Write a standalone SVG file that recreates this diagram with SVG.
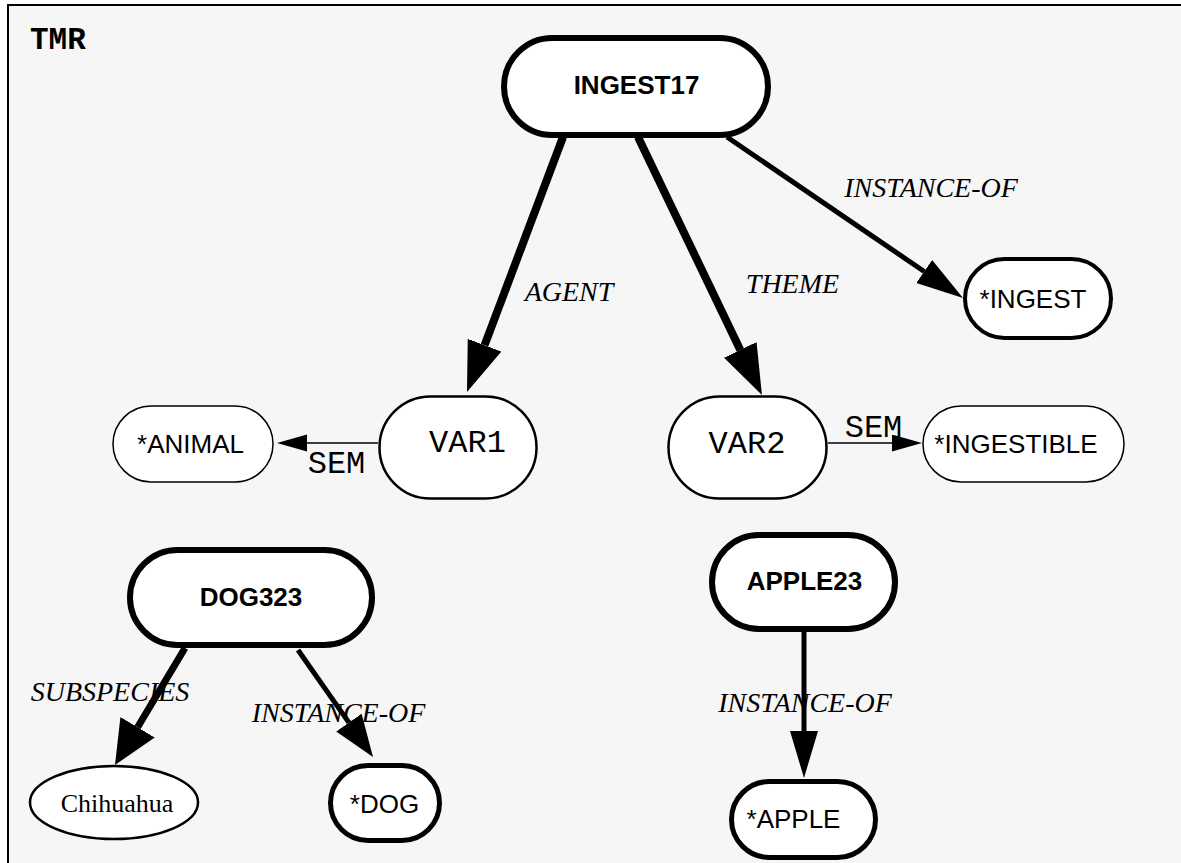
<svg xmlns="http://www.w3.org/2000/svg" width="1181" height="863" viewBox="0 0 1181 863">
<style>
.node{fill:#ffffff;stroke:#000000}
.sans{font-family:"Liberation Sans",Arial,sans-serif;font-size:26px;fill:#000;text-anchor:middle}
.bold{font-weight:bold}
.mono{font-family:"Liberation Mono","Courier New",monospace;font-size:32px;fill:#000;text-anchor:middle}
.lab{font-family:"Liberation Serif","Times New Roman",serif;font-size:28px;font-style:italic;fill:#000;text-anchor:middle}
.serif{font-family:"Liberation Serif","Times New Roman",serif;font-size:26px;fill:#000;text-anchor:middle}
.edge{fill:none;stroke:#000000}
</style>
<defs>
<marker id="aBig" markerUnits="userSpaceOnUse" markerWidth="52" markerHeight="38" refX="0" refY="18" orient="auto" viewBox="0 0 52 38"><path d="M0,0 L50,18 L0,36 z" fill="#000"/></marker>
<marker id="aMid" markerUnits="userSpaceOnUse" markerWidth="50" markerHeight="30" refX="0" refY="14" orient="auto" viewBox="0 0 50 30"><path d="M0,0 L47,14 L0,28 z" fill="#000"/></marker>
<marker id="aSub" markerUnits="userSpaceOnUse" markerWidth="46" markerHeight="42" refX="0" refY="20" orient="auto" viewBox="0 0 46 42"><path d="M0,0 L44,20 L0,40 z" fill="#000"/></marker>
<marker id="aDog" markerUnits="userSpaceOnUse" markerWidth="44" markerHeight="32" refX="0" refY="15.5" orient="auto" viewBox="0 0 44 32"><path d="M0,0 L42,15.5 L0,31 z" fill="#000"/></marker>
<marker id="aSem" markerUnits="userSpaceOnUse" markerWidth="32" markerHeight="18" refX="0" refY="8.5" orient="auto" viewBox="0 0 32 18"><path d="M0,0 L30,8.5 L0,17 z" fill="#000"/></marker>
</defs>
<rect x="0" y="0" width="1181" height="863" fill="#ffffff"/>
<rect x="8" y="5" width="1200" height="900" fill="#f6f6f6" stroke="#000" stroke-width="2"/>
<text x="30" y="49" style="font-family:'Liberation Mono','Courier New',monospace;font-size:31px;font-weight:bold;fill:#000">TMR</text>

<g id="connectors">
<path class="edge" d="M563,137 L484.6,345.2" stroke-width="8" marker-end="url(#aBig)"/>
<path class="edge" d="M638,137 L740.3,349.9" stroke-width="8" marker-end="url(#aBig)"/>
<path class="edge" d="M727,137 L924.2,271.5" stroke-width="5" marker-end="url(#aMid)"/>
<path class="edge" d="M378,443 L307,443" stroke-width="1.5" marker-end="url(#aSem)"/>
<path class="edge" d="M828,443 L892,443" stroke-width="1.5" marker-end="url(#aSem)"/>
<path class="edge" d="M185,648 L137.6,727.2" stroke-width="7" marker-end="url(#aSub)"/>
<path class="edge" d="M298,650 L348.9,722.6" stroke-width="5" marker-end="url(#aDog)"/>
<path class="edge" d="M804,632 L804,731" stroke-width="5" marker-end="url(#aMid)"/>
<text class="lab" x="569" y="301">AGENT</text>
<text class="lab" x="792.5" y="293">THEME</text>
<text class="lab" x="931" y="197">INSTANCE-OF</text>
<text class="mono" x="336.5" y="473">SEM</text>
<text class="mono" x="873.5" y="437">SEM</text>
<text class="lab" x="110" y="701">SUBSPECIES</text>
<text class="lab" x="338.5" y="722">INSTANCE-OF</text>
<text class="lab" x="805" y="712">INSTANCE-OF</text>
</g>

<g id="n-ingest17"><rect class="node" x="504" y="38" width="264" height="97" rx="48.5" stroke-width="6"/><text class="sans bold" x="636.5" y="94">INGEST17</text></g>
<g id="n-ingest"><rect class="node" x="965" y="259" width="146" height="79" rx="39.5" stroke-width="4"/><text class="sans" x="1033" y="308">*INGEST</text></g>
<g id="n-animal"><rect class="node" x="113" y="406" width="160" height="76" rx="38" stroke-width="1.5"/><text class="sans" x="190.5" y="453">*ANIMAL</text></g>
<g id="n-var1"><rect class="node" x="379.5" y="396.5" width="157" height="102" rx="51" stroke-width="2.5"/><text class="mono" x="467.5" y="452">VAR1</text></g>
<g id="n-var2"><rect class="node" x="668.5" y="396.5" width="158" height="102" rx="51" stroke-width="2.5"/><text class="mono" x="747" y="453">VAR2</text></g>
<g id="n-ingestible"><rect class="node" x="923" y="406" width="201" height="76" rx="38" stroke-width="1.5"/><text class="sans" x="1016" y="453">*INGESTIBLE</text></g>
<g id="n-dog323"><rect class="node" x="130" y="550" width="242" height="95" rx="47.5" stroke-width="6"/><text class="sans bold" x="251" y="606">DOG323</text></g>
<g id="n-chihuahua"><ellipse class="node" cx="114" cy="802.5" rx="84" ry="36.5" stroke-width="2.5"/><text class="serif" x="117" y="812">Chihuahua</text></g>
<g id="n-dog"><rect class="node" x="330.5" y="765.5" width="109" height="75" rx="37.5" stroke-width="5"/><text class="sans" x="384.5" y="813">*DOG</text></g>
<g id="n-apple23"><rect class="node" x="712" y="535" width="183" height="94" rx="47" stroke-width="6"/><text class="sans bold" x="804.5" y="590">APPLE23</text></g>
<g id="n-apple"><rect class="node" x="731.5" y="781.5" width="144" height="76" rx="38" stroke-width="5"/><text class="sans" x="793.5" y="828">*APPLE</text></g>
</svg>
